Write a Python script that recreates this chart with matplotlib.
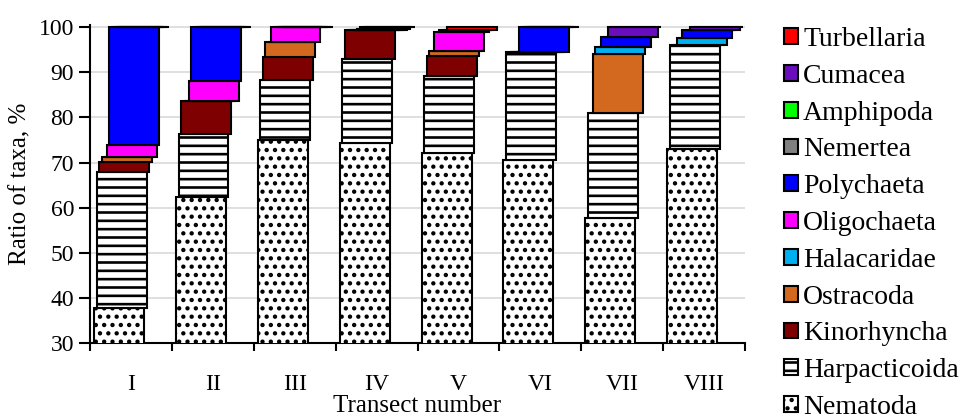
import numpy as np
import matplotlib.pyplot as plt
from matplotlib.patches import Patch

# ---------------------------------------------------------------
# data: ratio of taxa (%) per transect, stacked bottom -> top
# ---------------------------------------------------------------
transects = ["I", "II", "III", "IV", "V", "VI", "VII", "VIII"]

nematoda      = [37.8, 62.4, 75.0, 74.3, 72.1, 70.6, 57.7, 73.0]
harpacticoida = [30.1, 13.9, 13.2, 18.7, 17.1, 23.9, 23.3, 23.1]
kinorhyncha   = [2.2, 7.4, 5.1, 6.3, 4.4, 0.0, 0.0, 0.0]
ostracoda     = [1.1, 0.0, 3.4, 0.0, 1.2, 0.0, 13.0, 0.0]
halacaridae   = [0.0, 0.0, 0.0, 0.0, 0.0, 0.0, 1.7, 1.6]
oligochaeta   = [2.7, 4.4, 3.3, 0.0, 4.2, 0.0, 0.0, 0.0]
polychaeta    = [26.1, 11.9, 0.0, 0.0, 0.0, 5.5, 2.2, 1.7]
nemertea      = [0.0, 0.0, 0.0, 0.4, 0.4, 0.0, 0.0, 0.0]
amphipoda     = [0.0, 0.0, 0.0, 0.3, 0.0, 0.0, 0.0, 0.0]
cumacea       = [0.0, 0.0, 0.0, 0.0, 0.0, 0.0, 2.1, 0.6]
turbellaria   = [0.0, 0.0, 0.0, 0.0, 0.6, 0.0, 0.0, 0.0]

taxa = ["Nematoda", "Harpacticoida", "Kinorhyncha", "Ostracoda", "Halacaridae",
        "Oligochaeta", "Polychaeta", "Nemertea", "Amphipoda", "Cumacea", "Turbellaria"]
values = [nematoda, harpacticoida, kinorhyncha, ostracoda, halacaridae,
          oligochaeta, polychaeta, nemertea, amphipoda, cumacea, turbellaria]

# (facecolor, hatch)
styles = {
    "Nematoda":      ("white",   ".."),
    "Harpacticoida": ("white",   "--"),
    "Kinorhyncha":   ("#7F0000", None),
    "Ostracoda":     ("#D2691E", None),
    "Halacaridae":   ("#00B0F0", None),
    "Oligochaeta":   ("#FF00FF", None),
    "Polychaeta":    ("#0000FF", None),
    "Nemertea":      ("#808080", None),
    "Amphipoda":     ("#00FF00", None),
    "Cumacea":       ("#6A0DBD", None),
    "Turbellaria":   ("#FF0000", None),
}

plt.rcParams["font.family"] = ["Liberation Serif", "DejaVu Serif"]
plt.rcParams["hatch.linewidth"] = 1.9

fig = plt.figure(figsize=(9.71, 4.19), dpi=100)
ax = fig.add_axes([90 / 971, 76 / 419, 655 / 971, 318 / 419])

x = np.arange(len(transects))
bottom = np.zeros(len(transects))
for k, (name, vals) in enumerate(zip(taxa, values)):
    fc, hatch = styles[name]
    vals = np.array(vals)
    # each upper layer is nudged a bit to the right, like the original
    ax.bar(x - 0.45 + k * 0.031, vals, width=0.61, bottom=bottom, align="edge",
           color=fc, edgecolor="black", linewidth=1.5, hatch=hatch, zorder=3)
    bottom += vals

ax.set_xlim(-0.5, len(transects) - 0.5)
ax.set_ylim(30, 100.5)
ax.set_yticks(range(30, 101, 10))
ax.set_xticks(x)
ax.set_xticklabels(transects)
ax.set_xticks(np.arange(-0.5, len(transects)), minor=True)
ax.tick_params(axis="x", which="major", length=0, labelsize=17, pad=22)
ax.tick_params(axis="x", which="minor", length=6, width=1.5, direction="out")
ax.tick_params(axis="y", length=8, width=1.5, labelsize=17, direction="out")

ax.grid(axis="y", color="#D9D9D9", linewidth=1.2, zorder=0)
ax.set_axisbelow(True)
for s in ["top", "right"]:
    ax.spines[s].set_visible(False)
for s in ["left", "bottom"]:
    ax.spines[s].set_linewidth(1.5)

ax.set_xlabel("Transect number", fontsize=18, labelpad=0)
ax.set_ylabel("Ratio of taxa, %", fontsize=18, labelpad=5)

handles = []
for name in reversed(taxa):
    fc, hatch = styles[name]
    handles.append(Patch(facecolor=fc, edgecolor="black", linewidth=1.5,
                         hatch=hatch, label=name))
fig.legend(handles=handles, loc="upper left", bbox_to_anchor=(0.787, 0.982),
           frameon=False, fontsize=20, handlelength=0.5, handleheight=0.5,
           handletextpad=0.2, labelspacing=0.425, borderaxespad=0.3)

fig.savefig("out.png", dpi=100)
